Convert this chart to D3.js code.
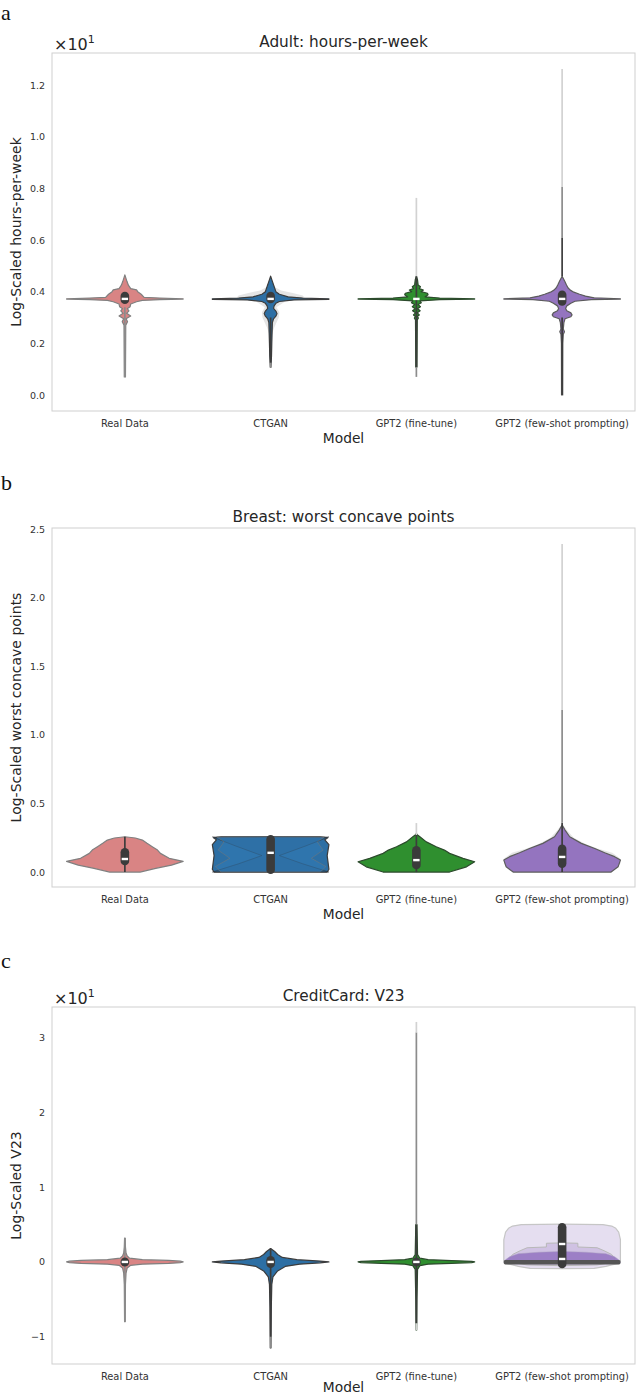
<!DOCTYPE html>
<html>
<head>
<meta charset="utf-8">
<script src="https://cdn.jsdelivr.net/npm/d3@7"></script>
<style>
  html, body { margin: 0; padding: 0; background: #fff; }
  svg { display: block; }
</style>
</head>
<body>
<svg id="chart" width="636" height="1396"></svg>
<script>
// ---------------- DATA ----------------
const categories = ["Real Data", "CTGAN", "GPT2 (fine-tune)", "GPT2 (few-shot prompting)"];

// tick values
const ticksA = [0.0, 0.2, 0.4, 0.6, 0.8, 1.0, 1.2];
const ticksB = [0.0, 0.5, 1.0, 1.5, 2.0, 2.5];
const ticksC = [-1, 0, 1, 2, 3];

// violin profiles: [value, relative density]
const adultReal = [[0.07,0.01],[0.27,0.015],[0.284,0.045],[0.295,0.02],[0.306,0.1],[0.316,0.03],[0.326,0.07],[0.334,0.04],[0.342,0.09],[0.352,0.1],[0.361,0.2],[0.366,0.3],[0.369,0.6],[0.3715,1],[0.3725,1],[0.375,0.6],[0.378,0.33],[0.39,0.28],[0.40,0.22],[0.407,0.2],[0.412,0.1],[0.425,0.06],[0.44,0.035],[0.465,0]];
const adultCTGANHalo = [[0.22,0],[0.26,0.06],[0.3,0.14],[0.32,0.15],[0.34,0.1],[0.362,0.25],[0.372,0.6],[0.385,0.55],[0.395,0.38],[0.405,0.18],[0.42,0.05],[0.44,0]];
const adultCTGAN = [[0.108,0.005],[0.15,0.015],[0.2,0.02],[0.24,0.025],[0.28,0.03],[0.295,0.05],[0.305,0.09],[0.315,0.11],[0.325,0.09],[0.335,0.05],[0.345,0.06],[0.355,0.09],[0.362,0.15],[0.368,0.4],[0.3705,1],[0.3725,1],[0.375,0.55],[0.38,0.3],[0.39,0.15],[0.40,0.09],[0.42,0.06],[0.44,0.03],[0.46,0]];
const adultGPTft = [[0.108,0.01],[0.29,0.015],[0.298,0.035],[0.304,0.015],[0.31,0.05],[0.318,0.015],[0.326,0.065],[0.334,0.02],[0.342,0.07],[0.35,0.03],[0.357,0.085],[0.364,0.06],[0.369,0.4],[0.3715,1],[0.3725,1],[0.375,0.4],[0.38,0.15],[0.388,0.2],[0.394,0.19],[0.40,0.08],[0.4065,0.12],[0.412,0.05],[0.419,0.07],[0.426,0.03],[0.445,0.02],[0.46,0]];
const adultGPTfs = [[0.0,0.01],[0.2,0.012],[0.235,0.02],[0.245,0.04],[0.255,0.02],[0.28,0.03],[0.295,0.05],[0.303,0.15],[0.31,0.17],[0.318,0.15],[0.326,0.08],[0.335,0.06],[0.345,0.08],[0.355,0.15],[0.363,0.22],[0.369,0.5],[0.3715,1],[0.3725,1],[0.376,0.55],[0.383,0.4],[0.39,0.3],[0.398,0.2],[0.406,0.14],[0.415,0.1],[0.426,0.075],[0.44,0.045],[0.46,0]];

const breastReal = [[0,0.26],[0.027,0.53],[0.05,0.8],[0.078,1.0],[0.1,0.76],[0.136,0.61],[0.16,0.56],[0.184,0.47],[0.209,0.38],[0.233,0.3],[0.248,0.18],[0.257,0]];
const breastCTGAN = [[0,0.97],[0.02,1.0],[0.12,0.97],[0.2,1.0],[0.235,0.93],[0.25,0.98],[0.256,0.85],[0.257,0]];
const breastCTGANx = [[0,1.0],[0.06,0.55],[0.12,0.15],[0.19,0.6],[0.256,1.0],[0.257,0]];
const breastCTGANy = [[0,0.85],[0.04,0.95],[0.1,0.7],[0.16,0.9],[0.22,0.8],[0.255,0.92],[0.257,0]];
const breastGPTft = [[0,0.57],[0.038,0.86],[0.075,1.0],[0.1,0.8],[0.136,0.57],[0.16,0.48],[0.184,0.34],[0.22,0.17],[0.257,0.06],[0.27,0.02],[0.28,0]];
const breastGPTfsHalo = [[0.02,0.9],[0.06,1.0],[0.1,0.99],[0.14,0.86],[0.17,0.62],[0.2,0.42],[0.25,0.2],[0.3,0.09],[0.35,0]];
const breastGPTfs = [[0,0.84],[0.038,0.96],[0.087,1.0],[0.112,0.9],[0.141,0.73],[0.172,0.56],[0.209,0.33],[0.257,0.13],[0.306,0.05],[0.343,0]];

const creditReal = [[-0.8,0.005],[-0.3,0.01],[-0.15,0.02],[-0.08,0.04],[-0.045,0.1],[-0.03,0.3],[-0.02,0.75],[-0.01,0.95],[0,1.0],[0.01,0.95],[0.02,0.75],[0.03,0.3],[0.05,0.08],[0.08,0.04],[0.12,0.02],[0.2,0.01],[0.32,0.005]];
const creditCTGAN = [[-1.15,0.005],[-0.6,0.012],[-0.3,0.02],[-0.2,0.04],[-0.12,0.12],[-0.06,0.25],[-0.03,0.5],[-0.012,0.85],[0,1.0],[0.012,0.85],[0.03,0.45],[0.06,0.2],[0.1,0.12],[0.14,0.07],[0.18,0]];
const creditGPTft = [[-0.91,0.005],[-0.5,0.01],[-0.1,0.02],[-0.05,0.06],[-0.03,0.2],[-0.018,0.6],[-0.008,0.95],[0,1.0],[0.008,0.95],[0.018,0.6],[0.03,0.2],[0.05,0.06],[0.1,0.02],[0.5,0.01]];
const creditGPTfsPale = [[-0.09,0],[-0.085,0.55],[-0.06,0.75],[-0.04,0.85],[-0.02,0.97],[0,1],[0.3,1],[0.4,0.97],[0.45,0.92],[0.48,0.85],[0.5,0.7],[0.505,0]];
const creditGPTfsMid = [[-0.05,0],[-0.04,0.6],[0,0.9],[0.05,0.9],[0.1,0.85],[0.15,0.72],[0.19,0.6],[0.2,0.27],[0.25,0.27],[0.255,0]];
const creditGPTfsDeep = [[-0.01,1.0],[0.03,0.97],[0.07,0.9],[0.11,0.75],[0.13,0.4],[0.14,0]];
const creditGPTfsBar = [[-0.035,0.98],[-0.02,1.0],[0.015,1.0],[0.025,0.98]];

// inner boxes: [category index, q1, q3]
const adultBoxes = [[0,0.352,0.40],[1,0.355,0.40],[3,0.345,0.405]];
const breastBoxes = [[0,0.05,0.175],[1,-0.015,0.27],[2,0.02,0.19],[3,0.03,0.2]];
const creditBoxes = [[0,-0.06,0.06],[1,-0.08,0.08],[2,-0.06,0.06],[3,-0.085,0.52]];

// medians: [category index, value]
const adultMedians = [[0,0.372],[1,0.372],[2,0.372],[3,0.372]];
const breastMedians = [[0,0.095],[1,0.14],[2,0.087],[3,0.11]];
const creditMedians = [[0,0],[1,0],[2,0],[3,0.24],[3,0.04]];

// whisker/tail segments: [category index, from, to]
const adultTailsDark = [[1,0.125,0.3],[2,0.108,0.46],[3,0.46,0.608],[3,0.0,0.3]];
const adultTailsMid = [[0,0.07,0.34],[1,0.105,0.125],[2,0.07,0.108],[3,0.608,0.805]];
const adultTailsLight = [[2,0.46,0.763],[3,0.805,1.262]];
const breastTailsDark = [[0,0.0,0.257],[2,0.0,0.27],[3,0.0,0.36]];
const breastTailsMid = [[3,0.36,1.18]];
const breastTailsLight = [[2,0.27,0.357],[3,1.18,2.39]];
const creditTailsDark = [[1,-1.0,0.18],[2,-0.82,0.5]];
const creditTailsMid = [[0,-0.8,0.32],[1,-1.15,-1.0],[2,0.5,3.07]];
const creditTailsLight = [[2,3.07,3.21],[2,-0.91,-0.82]];

// ---------------- STYLE ----------------
const catFill = ["#d98484", "#2d6fa4", "#2f8f2f", "#9474bf"];
const catStroke = ["#808080", "#3c3c3c", "#2c4a2c", "#5c5c5c"];
const font = "DejaVu Sans, sans-serif";

const svg = d3.select("#chart");
const left = 52, right = 635;

function panel(cfg) {
  const g = svg.append("g");
  const y = d3.scaleLinear().domain(cfg.domain).range([cfg.bottom, cfg.top]);
  const x = d3.scaleBand().domain(categories).range([left, right]);
  const bw = x.bandwidth();
  const w = d3.scaleLinear().domain([0, 1]).range([0, bw * 0.4]);
  const cx = i => x(categories[i]) + bw / 2;

  // frame
  g.append("rect").attr("x", left).attr("y", cfg.top)
    .attr("width", right - left).attr("height", cfg.bottom - cfg.top)
    .attr("fill", "none").attr("stroke", "#cfcfcf").attr("stroke-width", 1);

  // violins
  const layerStyle = {
    main: (i) => ({ fill: catFill[i], op: 1, stroke: catStroke[i], sop: 1, sw: 1.2 }),
    halo: () => ({ fill: "#8a8a8a", op: 0.22, stroke: "none", sop: 0, sw: 0 }),
    over: (i) => ({ fill: d3.color(catFill[i]).darker(0.6), op: 0.35, stroke: "#2a2a2a", sop: 0.45, sw: 1 }),
    soft: (i) => ({ fill: d3.color(catFill[i]).brighter(0.3), op: 0.45, stroke: "#777", sop: 0.5, sw: 1 }),
    pale: () => ({ fill: "#e5def0", op: 1, stroke: "#c6c6c6", sop: 1, sw: 1.2 }),
    mid: () => ({ fill: "#cdbfe1", op: 0.9, stroke: "#b8b8b8", sop: 1, sw: 1 }),
    deep: () => ({ fill: "#9678c2", op: 0.9, stroke: "#a89cc0", sop: 0.6, sw: 0.8 }),
    bar: () => ({ fill: "#555555", op: 1, stroke: "none", sop: 0, sw: 0 })
  };
  cfg.violins.forEach(([i, kind, prof]) => {
    const st = layerStyle[kind](i);
    const area = d3.area()
      .y(d => y(d[0]))
      .x0(d => cx(i) - w(d[1]))
      .x1(d => cx(i) + w(d[1]))
      .curve(d3.curveLinear);
    g.append("path").attr("d", area(prof))
      .attr("fill", st.fill).attr("fill-opacity", st.op)
      .attr("stroke", st.stroke).attr("stroke-opacity", st.sop)
      .attr("stroke-width", st.sw).attr("stroke-linejoin", "round");
  });

  // tails / whiskers
  const tailStyle = [["#3d3d3d", cfg.tailsDark], ["#8c8c8c", cfg.tailsMid], ["#d2d2d2", cfg.tailsLight]];
  tailStyle.forEach(([col, arr]) => {
    g.selectAll(null).data(arr).enter().append("line")
      .attr("x1", d => cx(d[0])).attr("x2", d => cx(d[0]))
      .attr("y1", d => y(d[1])).attr("y2", d => y(d[2]))
      .attr("stroke", col).attr("stroke-width", 1.7);
  });

  // boxes
  g.selectAll(null).data(cfg.boxes).enter().append("rect")
    .attr("x", d => cx(d[0]) - 4.3).attr("width", 8.6)
    .attr("y", d => y(d[2])).attr("height", d => y(d[1]) - y(d[2]))
    .attr("rx", 4.3).attr("fill", "#3b3b3b");

  // medians
  g.selectAll(null).data(cfg.medians).enter().append("rect")
    .attr("x", d => cx(d[0]) - 3.2).attr("width", 6.4)
    .attr("y", d => y(d[1]) - 1.2).attr("height", 2.4)
    .attr("fill", "#ffffff");

  // axes
  const ya = d3.axisLeft(y).tickValues(cfg.ticks).tickSize(0).tickPadding(7).tickFormat(cfg.fmt);
  const yg = g.append("g").attr("transform", `translate(${left},0)`).call(ya);
  yg.select(".domain").remove();
  yg.selectAll("text").attr("font-family", font).attr("font-size", 9.5).attr("fill", "#333");

  const xa = d3.axisBottom(x).tickSize(0).tickPadding(9);
  const xg = g.append("g").attr("transform", `translate(0,${cfg.bottom})`).call(xa);
  xg.select(".domain").remove();
  xg.selectAll("text").attr("font-family", font).attr("font-size", 9.9).attr("fill", "#333");

  // labels
  g.append("text").attr("x", (left + right) / 2).attr("y", cfg.top - 6)
    .attr("text-anchor", "middle").attr("font-family", font).attr("font-size", 15.3)
    .attr("fill", "#262626").text(cfg.title);
  g.append("text").attr("x", (left + right) / 2).attr("y", cfg.modelY)
    .attr("text-anchor", "middle").attr("font-family", font).attr("font-size", 13.8)
    .attr("fill", "#262626").text("Model");
  g.append("text")
    .attr("transform", `translate(21,${(cfg.top + cfg.bottom) / 2}) rotate(-90)`)
    .attr("text-anchor", "middle").attr("font-family", font).attr("font-size", 14)
    .attr("fill", "#262626").text(cfg.ylabel);
  g.append("text").attr("x", 1).attr("y", cfg.letterY)
    .attr("font-family", "Liberation Serif, DejaVu Serif, serif").attr("font-size", 22)
    .attr("fill", "#111").text(cfg.letter);
  if (cfg.offset) {
    const t = g.append("text").attr("x", 54).attr("y", cfg.top - 3)
      .attr("font-family", font).attr("font-size", 16).attr("fill", "#262626");
    t.append("tspan").text("×10");
    t.append("tspan").attr("font-size", 11).attr("dy", -7).text("1");
  }
}

panel({
  top: 53, bottom: 411, domain: [-0.062, 1.324], ticks: ticksA, fmt: d3.format(".1f"),
  title: "Adult: hours-per-week", ylabel: "Log-Scaled hours-per-week", letter: "a", letterY: 20, offset: true, modelY: 443,
  violins: [[0, "main", adultReal], [1, "halo", adultCTGANHalo], [1, "main", adultCTGAN], [2, "main", adultGPTft], [3, "main", adultGPTfs]],
  boxes: adultBoxes, medians: adultMedians,
  tailsDark: adultTailsDark, tailsMid: adultTailsMid, tailsLight: adultTailsLight
});

panel({
  top: 528, bottom: 887, domain: [-0.109, 2.507], ticks: ticksB, fmt: d3.format(".1f"),
  title: "Breast: worst concave points", ylabel: "Log-Scaled worst concave points", letter: "b", letterY: 490, offset: false, modelY: 919,
  violins: [[0, "main", breastReal], [1, "main", breastCTGAN], [1, "over", breastCTGANx], [1, "soft", breastCTGANy],
            [2, "main", breastGPTft], [3, "halo", breastGPTfsHalo], [3, "main", breastGPTfs]],
  boxes: breastBoxes, medians: breastMedians,
  tailsDark: breastTailsDark, tailsMid: breastTailsMid, tailsLight: breastTailsLight
});

panel({
  top: 1007, bottom: 1364, domain: [-1.365, 3.41], ticks: ticksC, fmt: d3.format("d"),
  title: "CreditCard: V23", ylabel: "Log-Scaled V23", letter: "c", letterY: 968, offset: true, modelY: 1392,
  violins: [[0, "main", creditReal], [1, "main", creditCTGAN], [2, "main", creditGPTft],
            [3, "pale", creditGPTfsPale], [3, "mid", creditGPTfsMid], [3, "deep", creditGPTfsDeep], [3, "bar", creditGPTfsBar]],
  boxes: creditBoxes, medians: creditMedians,
  tailsDark: creditTailsDark, tailsMid: creditTailsMid, tailsLight: creditTailsLight
});
</script>
</body>
</html>
